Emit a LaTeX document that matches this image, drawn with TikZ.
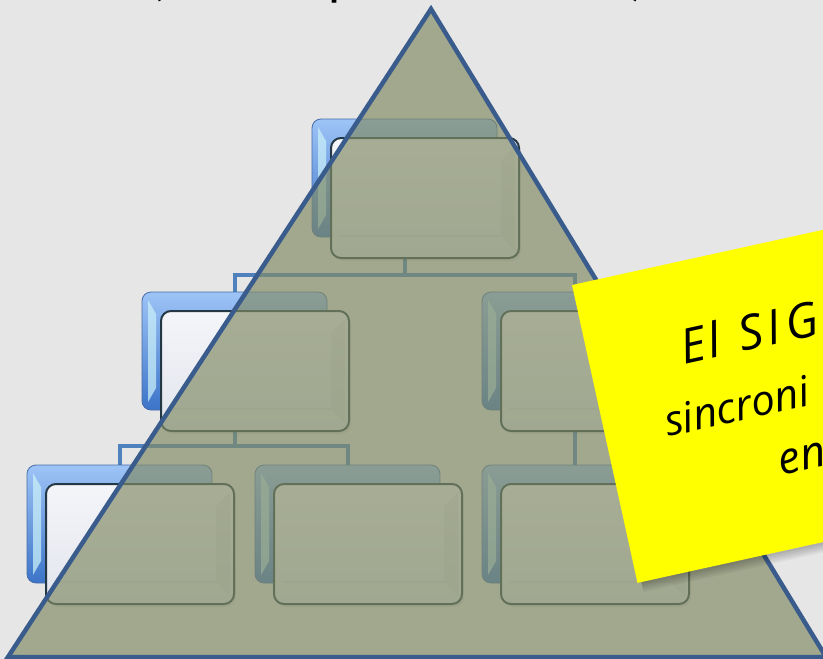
\documentclass[tikz,border=0pt]{standalone}
\usepackage{fontspec}
\newfontfamily\titlefont{Carlito}
\newfontfamily\notefont{Open Sans}
\usetikzlibrary{calc}
\definecolor{bgcol}{RGB}{230,230,230}
\definecolor{conncol}{RGB}{79,129,189}
\definecolor{tricol}{RGB}{130,139,100}
\definecolor{triedge}{RGB}{58,92,140}
\definecolor{backtop}{RGB}{158,196,247}
\definecolor{backbot}{RGB}{60,116,200}
\definecolor{backedge}{RGB}{70,110,170}
\definecolor{bevelcol}{RGB}{200,238,248}
\definecolor{fronttop}{RGB}{244,245,249}
\definecolor{frontbot}{RGB}{226,229,237}
\definecolor{frontedge}{RGB}{35,55,68}
\definecolor{notey}{RGB}{255,255,0}
\pgfdeclarelayer{backl}
\pgfdeclarelayer{connl}
\pgfsetlayers{backl,connl,main}
\newcommand\orgpair[3]{%
  \node[backbox] (#1b) at (#2+92.5,-#3-59) {};
  \fill[bevelcol, opacity=0.75] ($(#1b.north west)+(6,-8)$) -- ($(#1b.north west)+(14,-22)$)
     -- ($(#1b.south west)+(14,22)$) -- ($(#1b.south west)+(6,8)$) -- cycle;
  \fill[black, opacity=0.08] ($(#2+113+2,-#3-79-3)+(-94,60)$) [rounded corners=10] rectangle ++(188,-120);
  \node[frontbox] (#1f) at (#2+113,-#3-79) {};
  \fill[black, opacity=0.045] ($(#1f.north east)+(-4,-8)$) -- ($(#1f.north east)+(-18,-22)$)
     -- ($(#1f.south east)+(-18,22)$) -- ($(#1f.south east)+(-4,8)$) -- cycle;
  \draw[black, opacity=0.06, line width=1.2] ($(#1f.south west)+(8,22)$) -- ($(#1f.south east)+(-18,22)$);
}
\begin{document}
\begin{tikzpicture}[x=1pt,y=1pt,
  backbox/.style={draw=backedge, line width=0.8, rounded corners=9, top color=backtop,
    bottom color=backbot, minimum width=185, minimum height=118, inner sep=0, outer sep=0},
  frontbox/.style={draw=frontedge, line width=2, rounded corners=10, top color=fronttop,
    bottom color=frontbot, minimum width=188, minimum height=120, inner sep=0, outer sep=0},
  connline/.style={draw=conncol, line width=4},
  tri/.style={fill=tricol, fill opacity=0.67, draw=triedge, line width=4.5, line join=miter},
  titletext/.style={font=\titlefont\fontsize{54}{60}\selectfont, text=black, inner sep=0, anchor=base west},
  notetext/.style={font=\notefont\itshape\fontsize{42}{50}\selectfont, text=black, inner sep=0,
    anchor=base west, transform shape},
]
\useasboundingbox (0,0) rectangle (823,-659);
\begin{pgfonlayer}{backl}
  \fill[bgcol] (0,0) rectangle (823,-659);
\end{pgfonlayer}
\clip (0,0) rectangle (823,-659);

% title fragments (cut by the top edge)
\node[titletext] (tl) at (148,6) {(};
\node[titletext] (tp) at (328,6) {p};
\node[titletext] (tr) at (630,6) {)};

% org chart boxes
\orgpair{top}{312}{119}
\orgpair{ml}{142}{292}
\orgpair{mr}{482}{292}
\orgpair{bl}{27}{465}
\orgpair{bm}{255}{465}
\orgpair{br}{482}{465}

% connectors
\coordinate (bus1) at (0,-275);
\coordinate (bus2) at (0,-446);
\begin{pgfonlayer}{connl}
  \draw[connline] (topb.south) -- (topb.south |- bus1) -| (mlb.north);
  \draw[connline] (topb.south |- bus1) -| (mrb.north);
  \draw[connline] (mlb.south) -- (mlb.south |- bus2) -| (blb.north);
  \draw[connline] (mlb.south |- bus2) -| (bmb.north);
  \draw[connline] (mrb.south) -- (brb.north);
\end{pgfonlayer}

% pyramid
\coordinate (apex) at (431,-9);
\coordinate (cr) at (826,-657);
\coordinate (cl) at (8,-657);
\filldraw[tri] (apex) -- (cr) -- (cl) -- cycle;

% sticky note
\begin{scope}[shift={(572,-285)}, rotate=12.4]
  \foreach \s in {2,4,6,8,10}
    \fill[black, opacity=0.05] (4,-10) rectangle (380,-305-\s);
  \fill[notey] (0,0) rectangle (380,-305);
  \node[notetext, font=\notefont\itshape\fontsize{48}{56}\selectfont] (n1) at (93,-102)
    {E\kern2pt l\hspace{20pt}S\kern5pt I\kern6pt G};
  \node[notetext] (n2) at (61,-169) {sincroni};
  \node[notetext, font=\notefont\itshape\fontsize{44}{52}\selectfont] (n3) at (164,-231) {en};
\end{scope}
\end{tikzpicture}
\end{document}
